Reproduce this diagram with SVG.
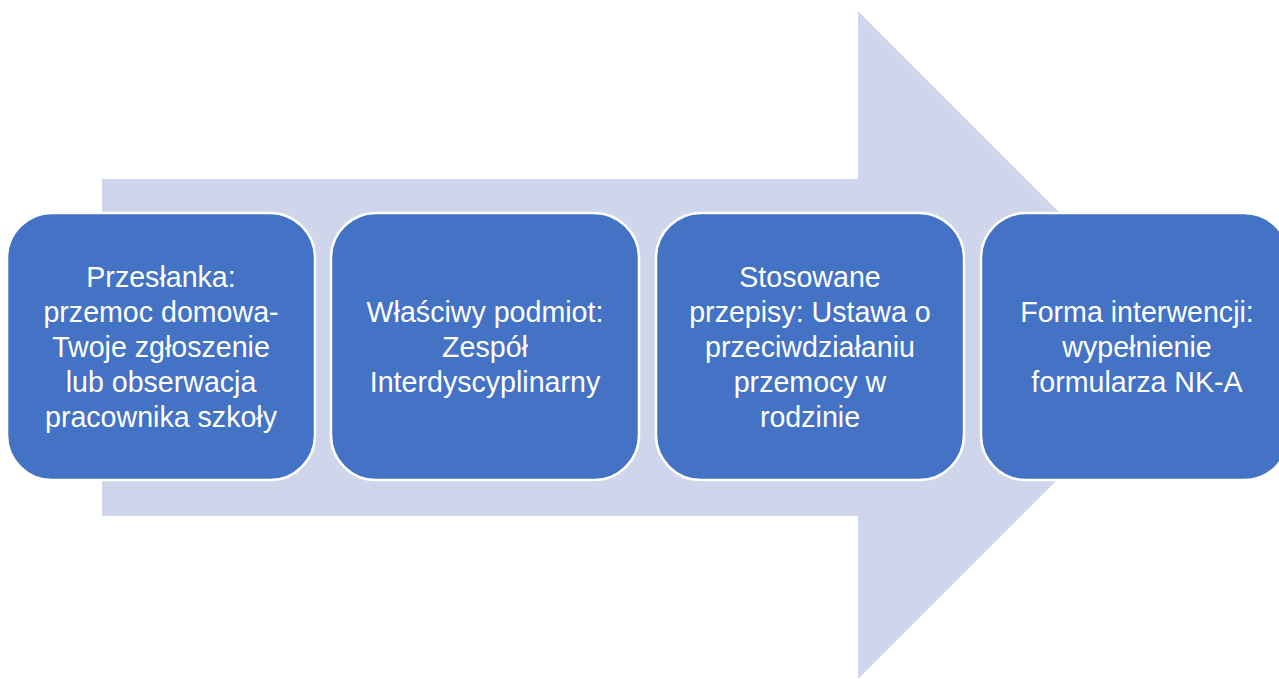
<svg xmlns="http://www.w3.org/2000/svg" width="1279" height="679" viewBox="0 0 1279 679">
<style>
.box{fill:#4472C4;stroke:#FFFFFF;stroke-width:2.5}
.t{font-family:"Liberation Sans",Arial,sans-serif;font-size:28.6px;fill:#FFFFFF;text-anchor:middle}
</style>
<rect width="1279" height="679" fill="#FFFFFF"/>
<g id="arrow">
<polygon points="102,179 858,179 858,11 1192,345 858,679 858,516 102,516" fill="#CFD5EA"/>
</g>
<g id="connectors"></g>
<g id="node1">
<rect class="box" x="7" y="213" width="308" height="267" rx="45" ry="45"/>
<text class="t" x="161" y="287">Przesłanka:</text>
<text class="t" x="161" y="322">przemoc domowa-</text>
<text class="t" x="161" y="357">Twoje zgłoszenie</text>
<text class="t" x="161" y="392">lub obserwacja</text>
<text class="t" x="161" y="427">pracownika szkoły</text>
</g>
<g id="node2">
<rect class="box" x="331" y="213" width="308" height="267" rx="45" ry="45"/>
<text class="t" x="485" y="322">Właściwy podmiot:</text>
<text class="t" x="485" y="357">Zespół</text>
<text class="t" x="485" y="392">Interdyscyplinarny</text>
</g>
<g id="node3">
<rect class="box" x="656" y="213" width="308" height="267" rx="45" ry="45"/>
<text class="t" x="810" y="287">Stosowane</text>
<text class="t" x="810" y="322">przepisy: Ustawa o</text>
<text class="t" x="810" y="357">przeciwdziałaniu</text>
<text class="t" x="810" y="392">przemocy w</text>
<text class="t" x="810" y="427">rodzinie</text>
</g>
<g id="node4">
<rect class="box" x="981" y="213" width="308" height="267" rx="45" ry="45"/>
<text class="t" x="1137" y="322">Forma interwencji:</text>
<text class="t" x="1137" y="357">wypełnienie</text>
<text class="t" x="1137" y="392">formularza NK-A</text>
</g>
</svg>
